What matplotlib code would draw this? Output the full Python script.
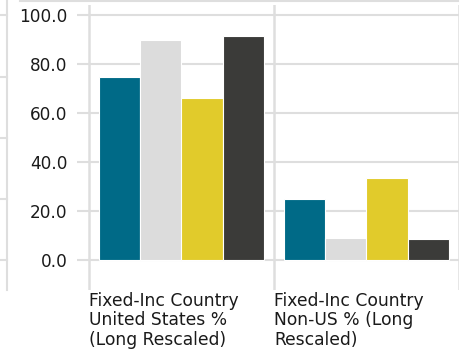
import matplotlib
matplotlib.use('Agg')
import matplotlib.pyplot as plt
from matplotlib.lines import Line2D
from matplotlib.transforms import blended_transform_factory

# ── 数据 ──
categories = [
    'Fixed-Inc Country\nUnited States %\n(Long Rescaled)',
    'Fixed-Inc Country\nNon-US % (Long\nRescaled)',
]
series_a = [74.8, 25.0]   # 青色
series_b = [89.8, 9.1]    # 浅灰
series_c = [66.2, 33.6]   # 黄色
series_d = [91.4, 8.4]    # 深灰
yticks = [0, 20, 40, 60, 80, 100]

colors = ['#006a87', '#dcdcdc', '#e1cb2b', '#3b3b39']
grid_c = '#dedede'

W, H = 475, 353
fig = plt.figure(figsize=(W / 100, H / 100), dpi=100)
plt.rcParams['font.family'] = ['DejaVu Sans']

# 轴区域（像素换算）
left, right, top, bottom = 77, 459, 5, 290
ax = fig.add_axes([left / W, 1 - bottom / H, (right - left) / W, (bottom - top) / H])

px_per_unit = 245 / 100.0   # 0 → y=260, 100 → y=15
ax.set_ylim(-(bottom - 260) / px_per_unit, 100 + (15 - top) / px_per_unit)
ax.set_xlim(-0.5 - 12 / 185.0, 1.5)

bw = 0.224
offsets = [-1.5 * bw, -0.5 * bw, 0.5 * bw, 1.5 * bw]
for vals, off, c in zip([series_a, series_b, series_c, series_d], offsets, colors):
    xs = [i + off for i in range(len(categories))]
    ax.bar(xs, vals, width=bw, color=c, edgecolor='white', linewidth=0.8, zorder=3)

# 网格线
for y in yticks:
    ax.axhline(y, color=grid_c, lw=1.5, zorder=1)
for x in [-0.5, 0.5, 1.5]:
    ax.axvline(x, color=grid_c, lw=1.8, zorder=1)

ax.set_yticks(yticks)
ax.set_yticklabels([f'{v:.1f}' for v in yticks])
ax.tick_params(axis='y', length=0, pad=7, labelsize=12.2, labelcolor='#1a1a1a')
ax.set_xticks([])
for s in ax.spines.values():
    s.set_visible(False)

# 类别标签
tr = blended_transform_factory(ax.transData, fig.transFigure)
for i, cat in enumerate(categories):
    ax.text(i - 0.5, 1 - 292 / H, cat, transform=tr, ha='left', va='top',
            fontsize=12.3, color='#1a1a1a', linespacing=1.1, clip_on=False)

# 旁边面板的残留边框
fig.add_artist(Line2D([20 / W, 458 / W], [1 - 0.8 / H] * 2, color=grid_c, lw=1.5))
fig.add_artist(Line2D([7 / W, 7 / W], [1, 1 - 290 / H], color=grid_c, lw=1.5))
for y in [15, 77, 138, 199, 260]:
    fig.add_artist(Line2D([0, 7 / W], [1 - y / H] * 2, color=grid_c, lw=1.5))

fig.savefig('out.png', dpi=100)
